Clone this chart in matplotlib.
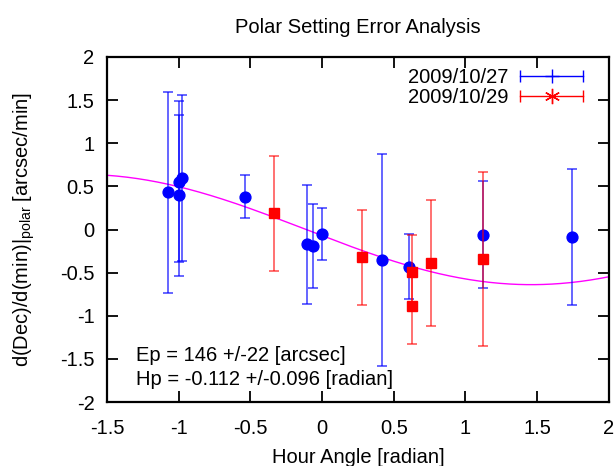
import numpy as np
import matplotlib
matplotlib.use("Agg")
import matplotlib.pyplot as plt
from matplotlib.lines import Line2D
from matplotlib.legend_handler import HandlerLine2D

plt.rcParams['font.family'] = ['Liberation Sans', 'DejaVu Sans']
plt.rcParams['mathtext.default'] = 'regular'

# 2009/10/27 (blue)
x27 = [-1.075, -0.996, -0.977, -0.996, -0.540, -0.107, -0.061, 0.0, 0.418, 0.608, 1.12, 1.74]
y27 = [0.43, 0.555, 0.597, 0.395, 0.382, -0.17, -0.194, -0.05, -0.35, -0.43, -0.06, -0.087]
e27 = [1.16, 0.935, 0.965, 0.935, 0.246, 0.69, 0.484, 0.30, 1.23, 0.38, 0.618, 0.785]

# 2009/10/29 (red)
x29 = [-0.335, 0.276, 0.627, 0.627, 0.759, 1.124]
y29 = [0.186, -0.32, -0.49, -0.89, -0.384, -0.34]
e29 = [0.67, 0.55, 0.43, 0.44, 0.73, 1.01]

Ep = 146.0      # arcsec
Hp = -0.112     # radian
amp = Ep * 2 * np.pi / 1436.0

FS = 14.5

fig = plt.figure(figsize=(6.15, 4.66), dpi=100)
ax = fig.add_axes([0.174, 0.137, 0.816, 0.741])

xs = np.linspace(-1.5, 2.0, 300)
ax.plot(xs, -amp * np.sin(xs - Hp), color='magenta', lw=1.0, zorder=2)

ax.errorbar(x27, y27, yerr=e27, fmt='o', color='blue', ecolor=(0, 0, 1, 0.65),
            elinewidth=1.3, capsize=3.6, capthick=1.3, markersize=7.8, zorder=3)
ax.errorbar(x29, y29, yerr=e29, fmt='s', color='red', ecolor=(1, 0, 0, 0.6),
            elinewidth=1.3, capsize=3.6, capthick=1.3, markersize=7.5, zorder=4)

ax.set_xlim(-1.5, 2.0)
ax.set_ylim(-2, 2)
xt = [-1.5, -1, -0.5, 0, 0.5, 1, 1.5, 2]
yt = [-2, -1.5, -1, -0.5, 0, 0.5, 1, 1.5, 2]
ax.set_xticks(xt)
ax.set_xticklabels(['%g' % v for v in xt])
ax.set_yticks(yt)
ax.set_yticklabels(['%g' % v for v in yt])
ax.tick_params(direction='in', top=True, right=True, length=8, width=1.3,
               labelsize=FS, pad=9)
ax.tick_params(axis='x', pad=12)
for s in ax.spines.values():
    s.set_linewidth(1.6)

ax.set_title('Polar Setting Error Analysis', fontsize=FS, pad=17)
ax.set_xlabel('Hour Angle [radian]', fontsize=FS, labelpad=7)
ax.set_ylabel(r'd(Dec)/d(min)|$_{polar}$ [arcsec/min]', fontsize=FS, labelpad=16.5)

ax.text(0.058, 0.118, 'Ep = 146 +/-22 [arcsec]', transform=ax.transAxes, fontsize=FS)
ax.text(0.058, 0.050, 'Hp = -0.112 +/-0.096 [radian]', transform=ax.transAxes, fontsize=FS)


class CapHandler(HandlerLine2D):
    def create_artists(self, legend, orig_handle, xdescent, ydescent,
                       width, height, fontsize, trans):
        arts = super().create_artists(legend, orig_handle, xdescent, ydescent,
                                      width, height, fontsize, trans)
        y = (height - ydescent) / 2
        caps = Line2D([-xdescent, -xdescent + width], [y, y], linestyle='none',
                      marker='|', markersize=9, markeredgewidth=1.0,
                      color=orig_handle.get_color(), transform=trans)
        return list(arts) + [caps]


leg_h = [Line2D([0], [0], color='blue', marker='+', markersize=10, lw=1),
         Line2D([0], [0], color='red', marker=(6, 2, 0), markersize=11, lw=1)]
leg = ax.legend(leg_h, ['2009/10/27', '2009/10/29'], loc='upper right',
                bbox_to_anchor=(0.964, 0.991), borderaxespad=0.0,
                frameon=False, markerfirst=False, fontsize=FS, handlelength=3.1,
                labelspacing=0.05, handletextpad=0.6,
                handler_map={Line2D: CapHandler()})

fig.savefig('out.png', dpi=100)
